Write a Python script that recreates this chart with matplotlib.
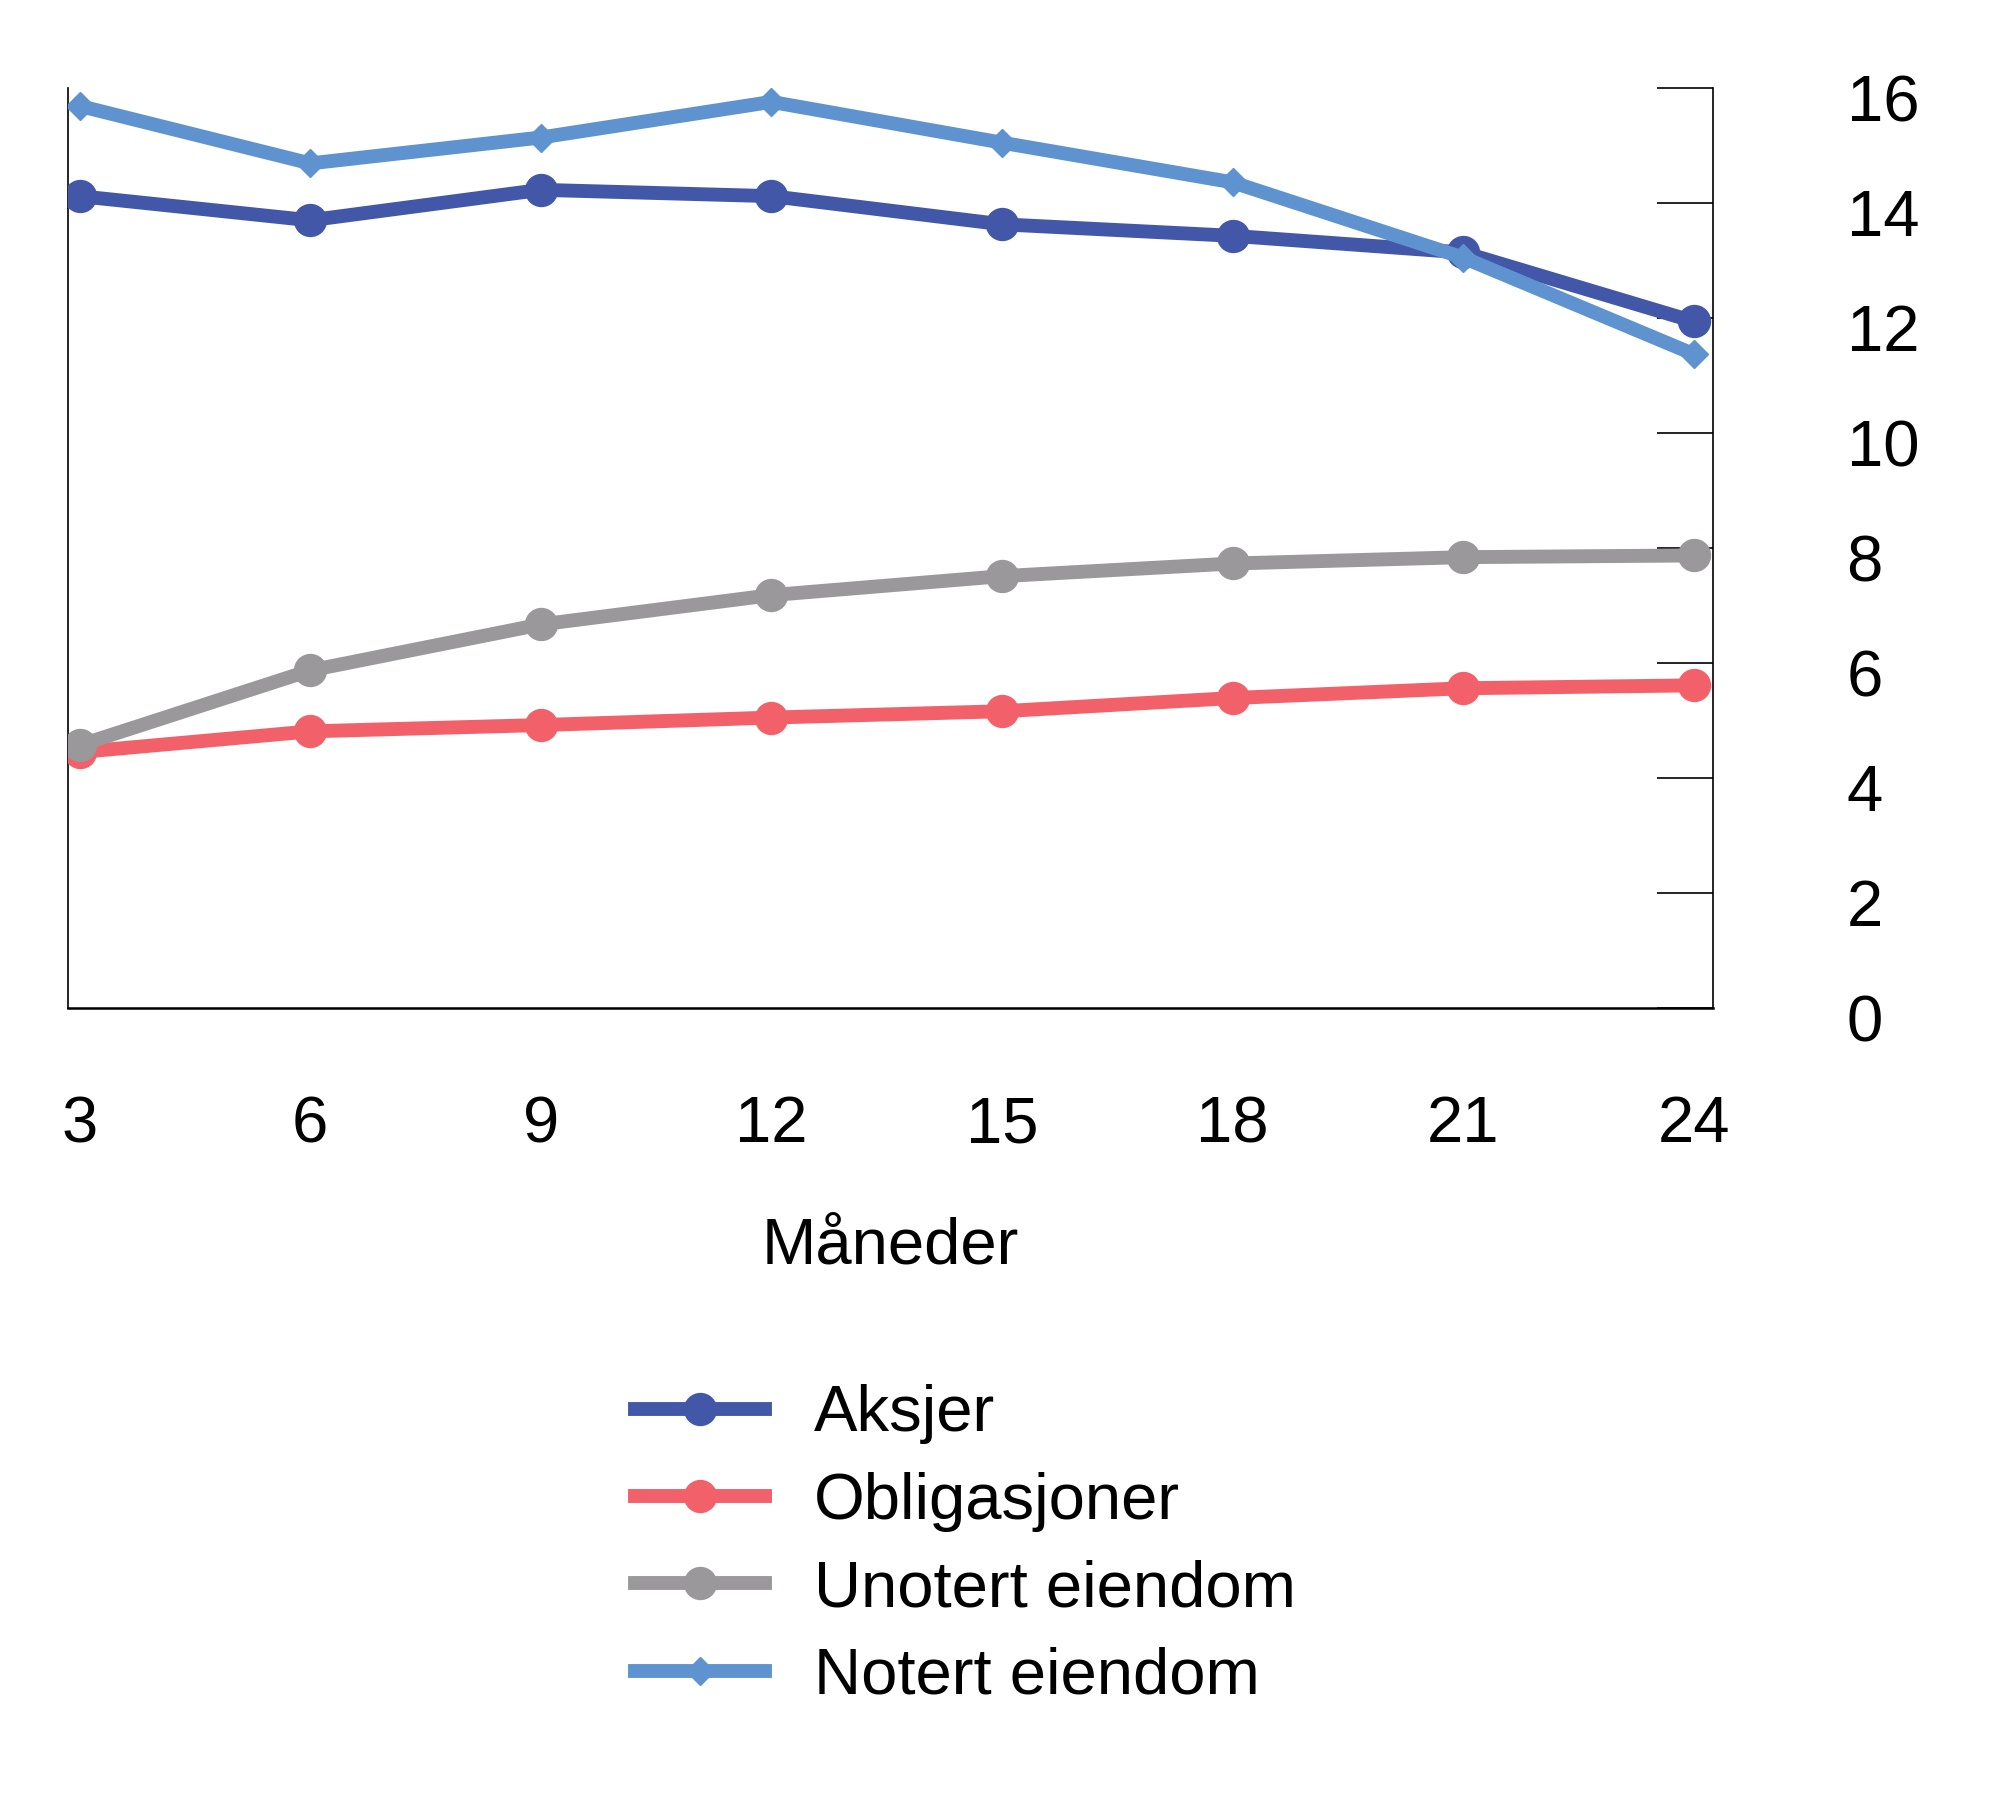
import matplotlib
matplotlib.use("Agg")
import matplotlib.pyplot as plt
from matplotlib.transforms import ScaledTranslation

plt.rcParams['font.family'] = ['Liberation Sans', 'DejaVu Sans']

months = [3, 6, 9, 12, 15, 18, 21, 24]
aksjer = [14.12, 13.70, 14.23, 14.12, 13.63, 13.43, 13.14, 11.94]
obligasjoner = [4.45, 4.81, 4.92, 5.05, 5.16, 5.39, 5.56, 5.61]
unotert = [4.57, 5.87, 6.67, 7.18, 7.51, 7.73, 7.84, 7.87]
notert = [15.69, 14.69, 15.14, 15.76, 15.05, 14.36, 13.05, 11.37]
y_ticks = [0, 2, 4, 6, 8, 10, 12, 14, 16]

fs = 47

fig = plt.figure(figsize=(20, 18.16), dpi=100)
ax = fig.add_axes([0.034, 0.4450, 0.8226, 0.5065])

lw = 10
ax.plot(months, aksjer, color="#4257A8", lw=lw, marker="o", ms=23, label="Aksjer", zorder=4)
ax.plot(months, obligasjoner, color="#F2606A", lw=lw, marker="o", ms=23, label="Obligasjoner", zorder=3)
ax.plot(months, unotert, color="#9A989A", lw=lw, marker="o", ms=23, label="Unotert eiendom", zorder=3)
ax.plot(months, notert, color="#5E93CF", lw=lw, marker="D", ms=14, label="Notert eiendom", zorder=5)

ax.set_xlim(2.85, 24.25)
ax.set_ylim(0, 16)
ax.set_xticks(months)
ax.set_yticks(y_ticks)
ax.yaxis.tick_right()
ax.tick_params(axis="y", direction="in", length=40, width=1.2, labelsize=fs, pad=96)
# labels sit a little below their ticks in the original
shift = ScaledTranslation(0, -7 / 72, fig.dpi_scale_trans)
for lab in ax.get_yticklabels():
    lab.set_horizontalalignment("left")
    lab.set_transform(lab.get_transform() + shift)
ax.tick_params(axis="x", length=0, labelsize=fs, pad=63)

ax.spines["top"].set_visible(False)
ax.spines["left"].set_linewidth(1.2)
ax.spines["right"].set_linewidth(1.2)
ax.spines["bottom"].set_linewidth(1.8)

ax.set_xlabel("Måneder", fontsize=fs, labelpad=44)

fig.legend(loc="upper left", bbox_to_anchor=(0.288, 0.270), frameon=False, fontsize=fs,
           handlelength=2.0, handletextpad=0.75, labelspacing=0.42)

fig.savefig("out.png", dpi=100)
